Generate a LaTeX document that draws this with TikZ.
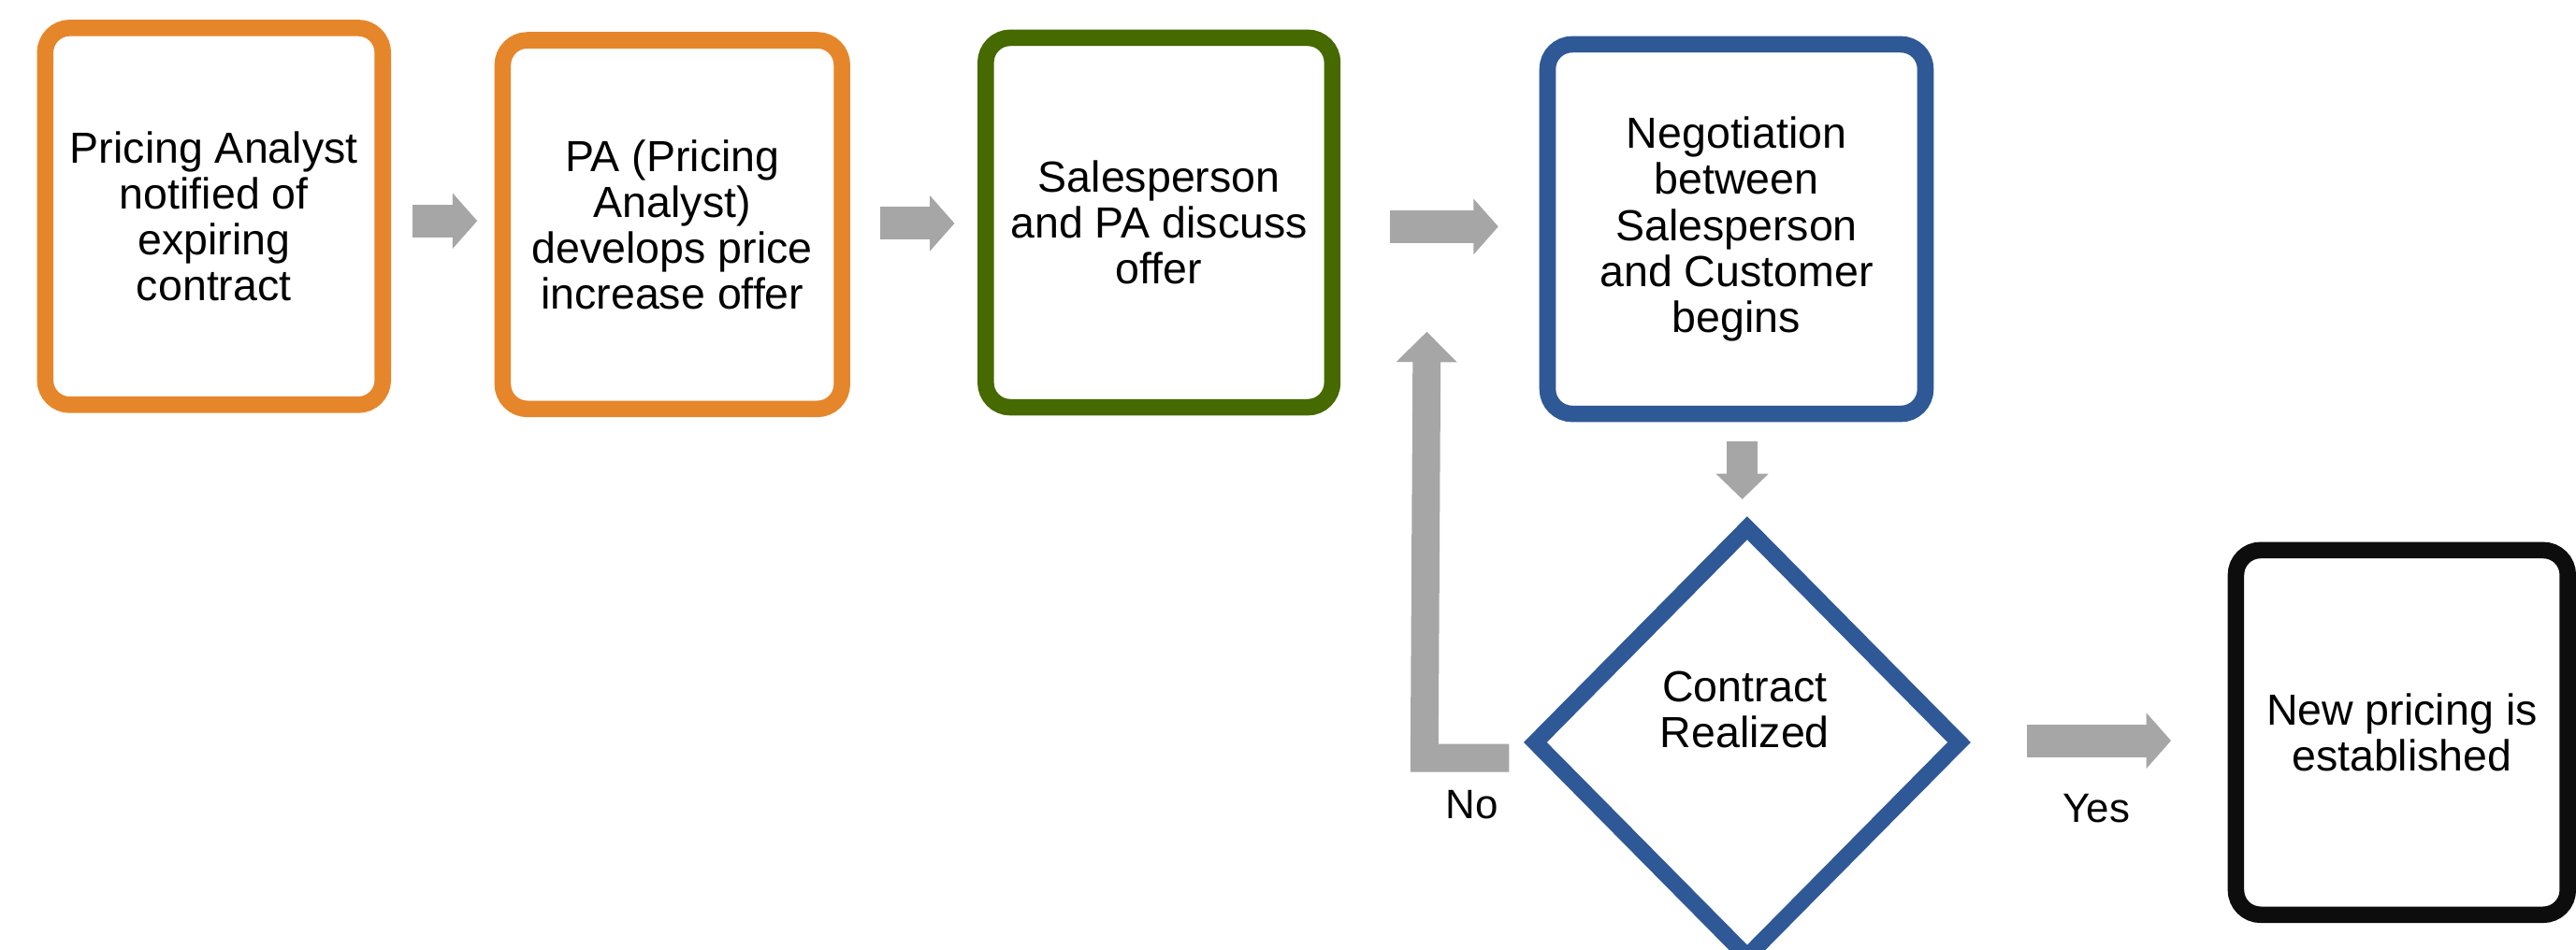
\documentclass[tikz,border=0pt]{standalone}
\usepackage{fontspec}
\setmainfont{Liberation Sans}
\usetikzlibrary{shapes.geometric,arrows.meta,calc}
\definecolor{cOrange}{HTML}{E6862A}
\definecolor{cGreen}{HTML}{466900}
\definecolor{cBlue}{HTML}{2F5896}
\definecolor{cBlack}{HTML}{0D0D0D}
\definecolor{cGray}{HTML}{A6A6A6}
\tikzset{
  procbox/.style={draw, line width=10pt, rounded corners=15pt, fill=white,
    align=center, inner sep=0pt, outer sep=0pt, font=\fontsize{26.5}{28}\selectfont},
  barrow/.style={draw=cGray, line width=20pt,
    -{Triangle[length=15pt,width=33pt]}},
  lbl/.style={font=\fontsize{25}{28}\selectfont, inner sep=0pt},
}
\begin{document}
\begin{tikzpicture}[x=1pt,y=-1pt]
\useasboundingbox (0,0) rectangle (1568,578);
\clip (0,0) rectangle (1568,578);
\fill[white] (0,0) rectangle (1568,578);

\node[procbox, draw=cOrange, minimum width=205.5pt, minimum height=229.5pt] (b1) at (130.25,131.75)
  {Pricing Analyst\\notified of\\expiring\\contract};
\node[procbox, draw=cOrange, minimum width=206.5pt, minimum height=224.5pt] (b2) at (409.25,136.75)
  {PA (Pricing\\Analyst)\\develops price\\increase offer};
\node[procbox, draw=cGreen, minimum width=211pt, minimum height=225pt] (b3) at (705.5,135.5)
  {Salesperson\\and PA discuss\\offer};
\node[procbox, draw=cBlue, minimum width=230pt, minimum height=225pt] (b4) at (1057,139.5)
  {Negotiation\\between\\Salesperson\\and Customer\\begins};
\node[procbox, draw=cBlack, minimum width=202pt, minimum height=222pt] (b5) at (1462,446)
  {New pricing is\\established};
\node[diamond, draw=cBlue, line width=10pt, fill=white, inner sep=0pt, outer sep=0pt,
  minimum width=258pt, minimum height=261pt] (dec) at (1063.5,452) {};
\node[align=center, inner sep=0pt, font=\fontsize{26.5}{28}\selectfont] (dectext)
  at ($(dec.center)+(-1.5,-20)$) {Contract\\Realized};

\draw[barrow] ($(b1.east)+(18,2.75)$) -- ($(b2.west)+(-15.5,-2.25)$);
\draw[barrow] ($(b2.east)+(23,-0.75)$) -- ($(b3.west)+(-19,0.5)$);
\draw[barrow] ($(b3.east)+(35,2.5)$) -- ($(b4.west)+(-30,-1.5)$);
\draw[barrow, line width=19pt, -{Triangle[length=15.5pt,width=31pt]}]
  ($(b4.south)+(3.5,17)$) -- ($(dec.north)+(-3,-17.5)$);
\draw[barrow] ($(dec.east)+(41,-1)$) -- ($(b5.west)+(-39.5,5)$);
\draw[barrow, line width=17pt, line join=miter, -{Triangle[length=18.5pt,width=36pt]}]
  ($(dec.west)+(-16,9.5)$) -- ++(-51.5,0) -- ($(b3.south)+(163,-46)$);

\node[lbl] (no) at (896,490) {No};
\node[lbl] (yes) at (1276,492) {Yes};
\end{tikzpicture}
\end{document}
